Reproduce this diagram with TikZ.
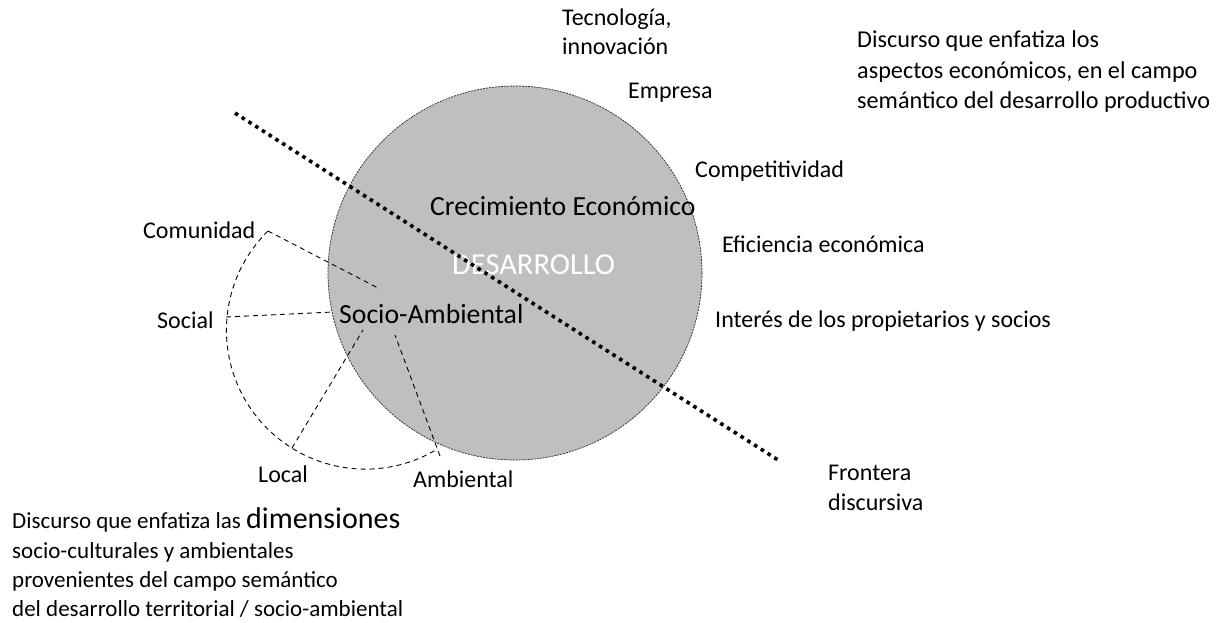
\documentclass[tikz,border=0pt]{standalone}
\usepackage{fontspec}
\setmainfont{Carlito}
\begin{document}
\begin{tikzpicture}[x=1pt,y=-1pt,
  lbl/.style={inner sep=0pt, anchor=west, font=\fontsize{24}{29.5}\selectfont, align=left},
  biglbl/.style={inner sep=0pt, anchor=west, font=\fontsize{27.7}{32}\selectfont},
  dsh/.style={line width=0.9pt, dash pattern=on 5pt off 4pt},
  frontera/.style={line width=3.6pt, dash pattern=on 3.6pt off 4.4pt}]
\useasboundingbox (0,0) rectangle (1217,622);
\node[circle, minimum size=374pt, inner sep=0pt, fill=gray!50, draw=black!85, line width=0.7pt, dash pattern=on 2pt off 1pt] (des) at (515,273) {};
\node[inner sep=0pt, anchor=west, text=white, font=\fontsize{30.5}{34}\selectfont] (desl) at (452,265) {DESARROLLO};
\node[biglbl] (crec) at (430,206) {Crecimiento Económico};
\node[biglbl] (socio) at (339,314) {Socio-Ambiental};
\node[lbl] (tec) at (562,32) {Tecnología,\\innovación};
\node[lbl] (emp) at (628,93) {Empresa};
\node[lbl] (comp) at (695,171) {Competitividad};
\node[lbl] (efi) at (722,244) {Eficiencia económica};
\node[lbl] (int) at (715,321) {Interés de los propietarios y socios};
\node[lbl, font=\fontsize{24.2}{30.5}\selectfont] (econ) at (857,72) {Discurso que enfatiza los\\aspectos económicos, en el campo\\semántico del desarrollo productivo};
\node[lbl, font=\fontsize{24}{30}\selectfont] (front) at (828,488) {Frontera\\discursiva};
\node[lbl] (comu) at (143,230) {Comunidad};
\node[lbl] (soc) at (157,320) {Social};
\node[lbl] (loc) at (258,474) {Local};
\node[lbl] (amb) at (413,479) {Ambiental};
\node[lbl, font=\fontsize{23}{29.3}\selectfont] (terr) at (12,563) {Discurso que enfatiza las {\fontsize{30}{29.3}\selectfont dimensiones}\\socio-culturales y ambientales\\provenientes del campo semántico\\del desarrollo territorial / socio-ambiental};
% fan
\coordinate (cA) at (268,231);
\coordinate (cAi) at (380,289);
\coordinate (cS) at (226,317);
\coordinate (cSi) at (333,312);
\coordinate (cL) at (292,448);
\coordinate (cLi) at (363,330);
\coordinate (cM) at (440,456);
\coordinate (cMi) at (395,335);
\draw[dsh] (cA) -- (cAi);
\draw[dsh] (cS) -- (cSi);
\draw[dsh] (cL) -- (cLi);
\draw[dsh] (cM) -- (cMi);
\draw[dsh] (cA) arc[start angle=225.5, end angle=59, radius=139];
% frontier
\coordinate (f1) at (235,113);
\coordinate (f2) at (778,460);
\draw[frontera] (f1) -- (f2);
\end{tikzpicture}
\end{document}
